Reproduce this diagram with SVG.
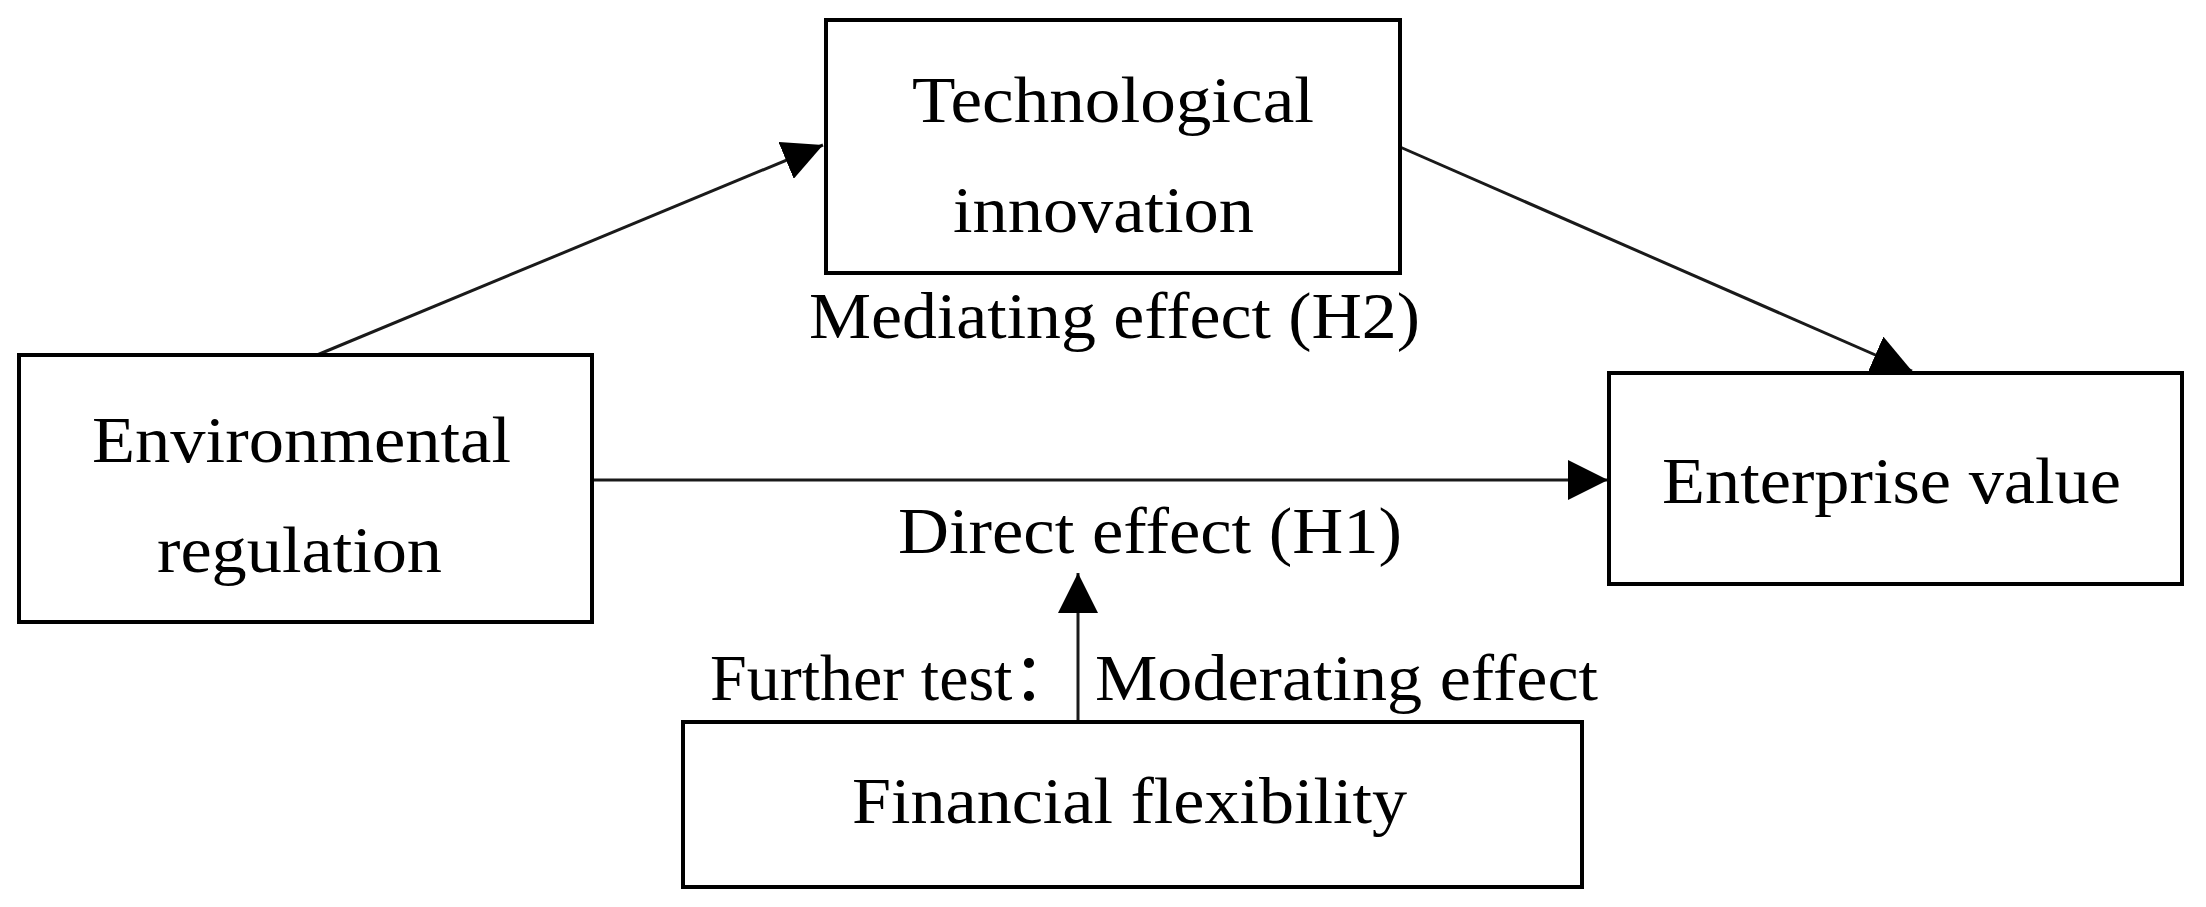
<svg xmlns="http://www.w3.org/2000/svg" width="2206" height="907" viewBox="0 0 2206 907">
<style>
.box{fill:#fff;stroke:#000;stroke-width:4}
.lbl{font-family:"Liberation Serif","Times New Roman",serif;font-size:66px;fill:#000}
.con{stroke:#1a1a1a;stroke-width:3;fill:none}
</style>
<defs>
<marker id="arr" markerUnits="userSpaceOnUse" markerWidth="40" markerHeight="40" refX="40" refY="20" orient="auto">
<path d="M0,0 L40,20 L0,40 z" fill="#000"/>
</marker>
</defs>
<rect width="2206" height="907" fill="#fff"/>
<g id="connectors">
<line class="con" x1="317" y1="355" x2="823" y2="145" marker-end="url(#arr)"/>
<line class="con" x1="1400" y1="147" x2="1912" y2="371" marker-end="url(#arr)"/>
<line class="con" x1="592" y1="480" x2="1608" y2="480" marker-end="url(#arr)"/>
<line class="con" x1="1078" y1="722" x2="1078" y2="573" marker-end="url(#arr)"/>
</g>
<g id="tech">
<rect class="box" x="826" y="20" width="574" height="253"/>
<text class="lbl" x="912" y="122" textLength="402" lengthAdjust="spacingAndGlyphs">Technological</text>
<text class="lbl" x="953" y="232" textLength="301" lengthAdjust="spacingAndGlyphs">innovation</text>
</g>
<g id="env">
<rect class="box" x="19" y="355" width="573" height="267"/>
<text class="lbl" x="92" y="462" textLength="419" lengthAdjust="spacingAndGlyphs">Environmental</text>
<text class="lbl" x="157" y="572" textLength="285" lengthAdjust="spacingAndGlyphs">regulation</text>
</g>
<g id="ent">
<rect class="box" x="1609" y="373" width="573" height="211"/>
<text class="lbl" x="1662" y="503" textLength="459" lengthAdjust="spacingAndGlyphs">Enterprise value</text>
</g>
<g id="fin">
<rect class="box" x="683" y="722" width="899" height="165"/>
<text class="lbl" x="852" y="823" textLength="555" lengthAdjust="spacingAndGlyphs">Financial flexibility</text>
</g>
<g id="labels">
<text class="lbl" x="809" y="338" textLength="611" lengthAdjust="spacingAndGlyphs">Mediating effect (H2)</text>
<text class="lbl" x="898" y="553" textLength="504" lengthAdjust="spacingAndGlyphs">Direct effect (H1)</text>
<text class="lbl" y="700"><tspan x="710" font-family="'Liberation Serif','Noto Sans CJK SC',serif">Further test：</tspan><tspan x="1095" textLength="503" lengthAdjust="spacingAndGlyphs">Moderating effect</tspan></text>
</g>
</svg>
